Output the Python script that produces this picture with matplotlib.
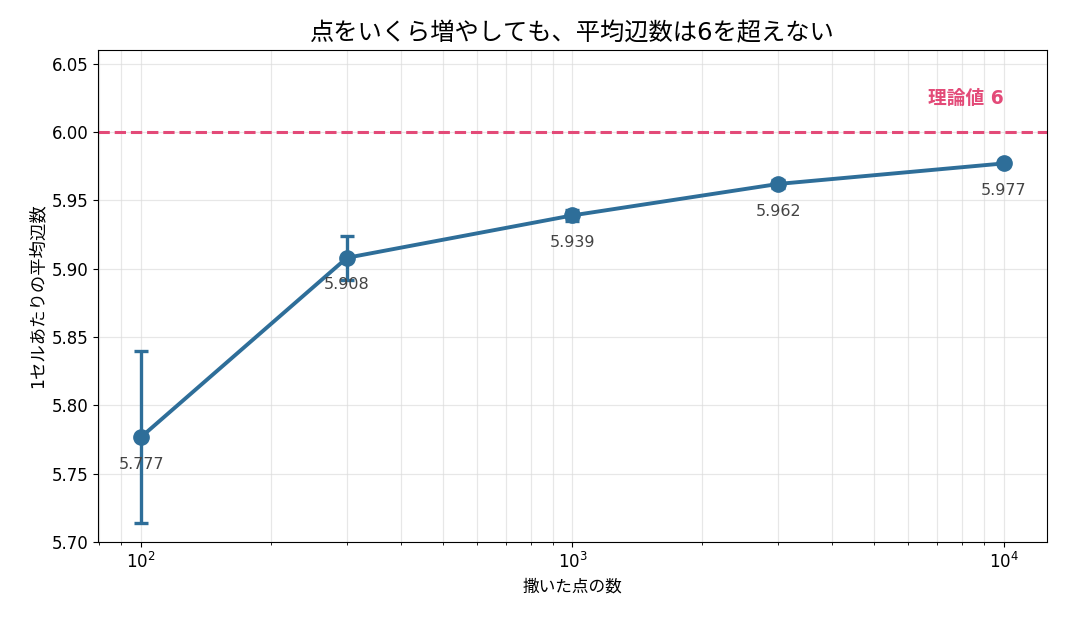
import matplotlib
matplotlib.use("Agg")
import matplotlib.pyplot as plt

plt.rcParams['font.family'] = ['DejaVu Sans', 'Noto Sans CJK JP']

n_points = [100, 300, 1000, 3000, 10000]
mean_edges = [5.777, 5.908, 5.939, 5.962, 5.977]
err = [0.063, 0.016, 0.004, 0.003, 0.0015]
labels = ["5.777", "5.908", "5.939", "5.962", "5.977"]
theory = 6.0

line_color = "#2e6e99"
red = "#e34a78"

fig, ax = plt.subplots(figsize=(10.66, 6.24), dpi=100)
ax.errorbar(n_points, mean_edges, yerr=err, color=line_color, lw=2.8,
            marker='o', ms=11, capsize=5, elinewidth=2.4, capthick=2.4, zorder=3)
ax.axhline(theory, color=red, ls='--', lw=2.2, zorder=2)
ax.text(0.955, 6.0245, "理論値 6", transform=ax.get_yaxis_transform(),
        color=red, fontsize=13.5, fontweight='bold', ha='right', va='center')
for x, y, t in zip(n_points, mean_edges, labels):
    ax.annotate(t, (x, y), xytext=(0, -19.5), textcoords='offset points',
                ha='center', va='center', fontsize=11.5, color='#444444', zorder=4)

ax.set_xscale('log')
ax.set_ylim(5.70, 6.06)
ax.grid(True, which='both', color='#dddddd', alpha=0.7, lw=0.9)
ax.set_xlabel("撒いた点の数", fontsize=12)
ax.set_ylabel("1セルあたりの平均辺数", fontsize=12.5)
ax.set_title("点をいくら増やしても、平均辺数は6を超えない", fontsize=17.5, pad=7)
ax.tick_params(labelsize=12)
plt.subplots_adjust(left=0.092, right=0.982, top=0.92, bottom=0.131)
fig.savefig("out.png", dpi=100)
